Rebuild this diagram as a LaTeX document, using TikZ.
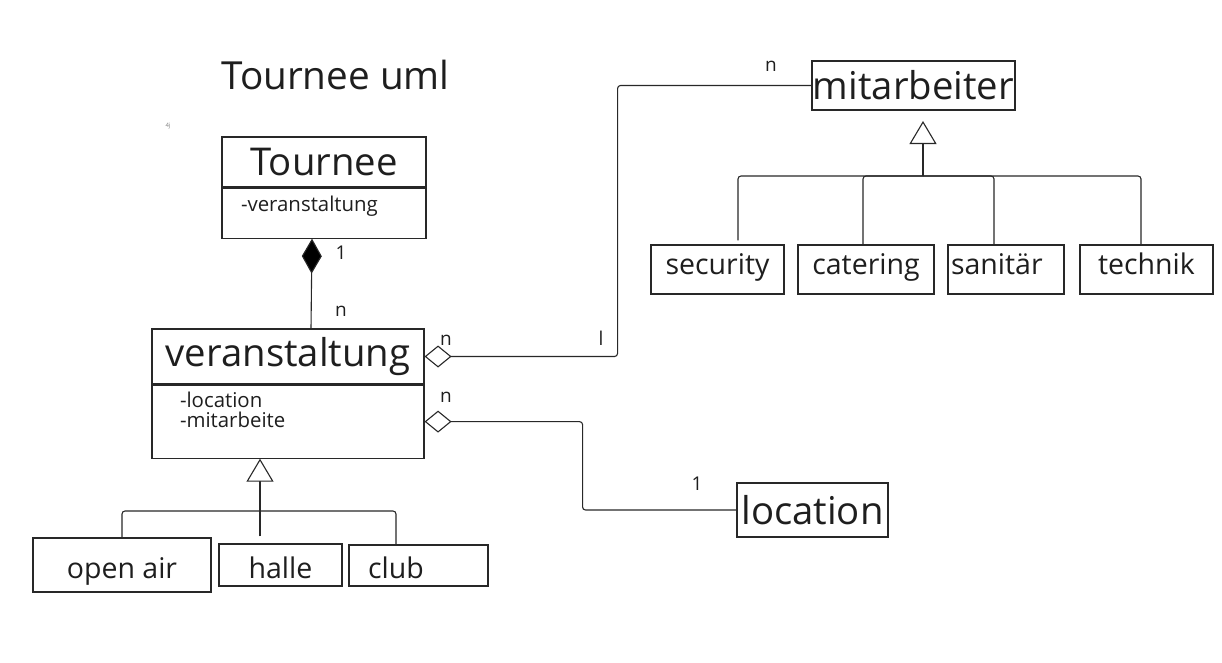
\documentclass[tikz,border=0pt]{standalone}
\usepackage{fontspec}
\setmainfont{Open Sans}
\usetikzlibrary{arrows.meta,positioning,calc}
\definecolor{umlline}{RGB}{40,40,40}
\definecolor{umltext}{RGB}{30,30,30}

\begin{document}
\begin{tikzpicture}[x=1pt, y=-1pt,
    classhead/.style={rectangle, draw=umlline, line width=1.1pt, inner sep=1pt,
        text=umltext, font=\fontsize{38.3}{40}\selectfont},
    classattr/.style={rectangle, draw=umlline, line width=1.1pt, inner ysep=0pt,
        text=umltext, align=left, font=\fontsize{20.4}{20}\selectfont},
    subclass/.style={rectangle, draw=umlline, line width=1.1pt, inner sep=1pt,
        text=umltext, minimum height=49pt, text height=17pt, text depth=8pt,
        font=\fontsize{28.5}{30}\selectfont},
    lowsub/.style={subclass, text height=26pt, text depth=0pt},
    mult/.style={text=umltext, inner sep=0pt, font=\fontsize{19}{20}\selectfont},
    conn/.style={draw=umlline, line width=1.1pt, rounded corners=3pt},
    comp/.style={conn, -{Diamond[fill=black, length=35pt, width=20pt]}},
    aggr/.style={conn, -{Diamond[open, fill=white, length=27pt, width=22pt]}},
    gen/.style={conn, -{Triangle[open, fill=white, length=23pt, width=27pt]}}
]
    \useasboundingbox (0,0) rectangle (1222,662);

    % Title
    \node[anchor=base, text=umltext, font=\fontsize{38.7}{40}\selectfont] (title) at (335.5,89) {Tournee uml};
    \node[text=gray, font=\fontsize{6}{6}\selectfont] (mark) at (168,126) {4j};

    % Classes
    \node[classhead, minimum width=204pt, minimum height=50pt] (tour) at (324,162) {Tournee};
    \node[classattr, below=0pt of tour, text width=166pt, inner xsep=19pt,
        text height=23pt, text depth=27pt] (tourattr) {-veranstaltung};

    \node[classhead, minimum width=272pt, minimum height=55pt] (ver) at (288,356.5) {veranstaltung};
    \node[classattr, below=0pt of ver, text width=216pt, inner xsep=28pt,
        text height=22pt, text depth=51pt] (verattr) {-location\\-mitarbeite};

    \node[classhead, minimum width=203pt, minimum height=49pt] (mit) at (913.5,85.5) {mitarbeiter};
    \node[classhead, minimum width=151pt, minimum height=54pt] (loc) at (812.5,510) {location};

    % Subclasses of mitarbeiter
    \node[subclass, minimum width=133pt] (sec) at (717.5,269.5) {security};
    \node[subclass, minimum width=136pt] (cat) at (866,269.5) {catering};
    \node[subclass, text width=110pt, inner xsep=3pt, align=left] (san) at (1006,269.5) {sanitär};
    \node[subclass, minimum width=133pt] (tech) at (1146.5,269.5) {technik};

    % Subclasses of veranstaltung
    \node[lowsub, minimum width=178pt, minimum height=54pt] (open) at (122,565) {open air};
    \node[lowsub, minimum width=123pt, minimum height=42pt] (halle) at (280.5,565) {halle};
    \node[lowsub, minimum height=41pt, text width=101pt, inner xsep=19pt, align=left] (club) at (418.5,565.5) {club};

    % Multiplicities
    \node[mult] (m1) at (341,253) {1};
    \node[mult] (m2) at (341,311) {n};
    \node[mult] (m3) at (446,340) {n};
    \node[mult] (m4) at (601,338) {l};
    \node[mult] (m5) at (771,66) {n};
    \node[mult] (m6) at (446,397) {n};
    \node[mult] (m7) at (697,484) {1};

    % Composition and aggregations
    \draw[comp] ([xshift=23pt]ver.north) -- ([xshift=-12pt]tourattr.south);
    \draw[aggr] (mit.west) -| ([xshift=193pt]ver.east) -- (ver.east);
    \draw[aggr] (loc.west) -| ([xshift=158pt]verattr.east) -- (verattr.east);

    % Generalization veranstaltung
    \coordinate (verbar) at (260,511);
    \draw[conn] (open.north) |- (verbar);
    \draw[conn] ([xshift=-20.5pt, yshift=7pt]halle.north) -- (verbar);
    \draw[conn] ([xshift=-22.5pt]club.north) |- (verbar);
    \draw[gen] (verbar) -- (verbar |- verattr.south);

    % Generalization mitarbeiter
    \coordinate (mitbar) at (923,176);
    \coordinate (mittip) at (923,121);
    \draw[conn] ([xshift=20.5pt, yshift=4pt]sec.north) |- (mitbar);
    \draw[conn] ([xshift=-3pt]cat.north) |- (mitbar);
    \draw[conn] ([xshift=-12pt]san.north) |- (mitbar);
    \draw[conn] ([xshift=-5.5pt]tech.north) |- (mitbar);
    \draw[gen] (mitbar) -- (mittip);
\end{tikzpicture}
\end{document}
